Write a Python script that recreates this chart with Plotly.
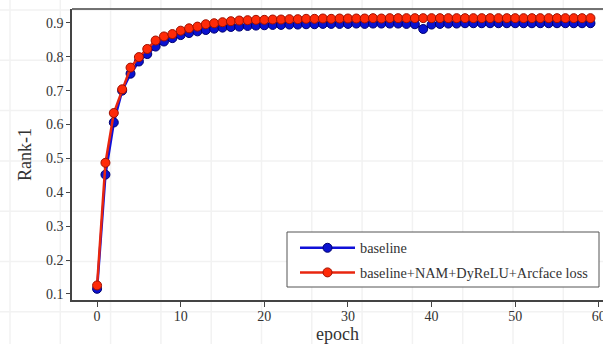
import plotly.graph_objects as go

epochs = list(range(60))

baseline = [0.115, 0.452, 0.606, 0.700, 0.750, 0.786, 0.808, 0.830, 0.845, 0.855,
            0.864, 0.870, 0.875, 0.879, 0.883, 0.886, 0.888, 0.889, 0.891, 0.892,
            0.893, 0.894, 0.894, 0.895, 0.895, 0.896, 0.896, 0.897, 0.897, 0.897,
            0.897, 0.898, 0.897, 0.898, 0.898, 0.898, 0.898, 0.897, 0.896, 0.882,
            0.895, 0.897, 0.898, 0.898, 0.899, 0.899, 0.899, 0.899, 0.899, 0.899,
            0.899, 0.899, 0.899, 0.899, 0.899, 0.899, 0.899, 0.899, 0.899, 0.899]

improved = [0.125, 0.487, 0.634, 0.704, 0.768, 0.799, 0.823, 0.848, 0.860, 0.867,
            0.877, 0.884, 0.889, 0.896, 0.899, 0.902, 0.905, 0.907, 0.908, 0.909,
            0.909, 0.910, 0.910, 0.911, 0.911, 0.912, 0.912, 0.913, 0.912, 0.913,
            0.913, 0.913, 0.913, 0.914, 0.913, 0.914, 0.914, 0.914, 0.914, 0.914,
            0.914, 0.914, 0.914, 0.914, 0.914, 0.914, 0.914, 0.914, 0.914, 0.914,
            0.914, 0.914, 0.914, 0.914, 0.914, 0.914, 0.914, 0.914, 0.914, 0.914]

series_names = ["baseline", "baseline+NAM+DyReLU+Arcface loss"]
x_ticks = [0, 10, 20, 30, 40, 50, 60]
y_ticks = [0.1, 0.2, 0.3, 0.4, 0.5, 0.6, 0.7, 0.8, 0.9]

FONT = "Liberation Serif"

fig = go.Figure()
fig.add_trace(go.Scatter(
    x=epochs, y=baseline, name=series_names[0], mode="lines+markers", legendgroup="a",
    line=dict(color="#1010d8", width=2.5),
    marker=dict(color="#0a12d0", size=9, line=dict(color="#000070", width=1)),
))
fig.add_trace(go.Scatter(
    x=epochs, y=improved, name=series_names[1], mode="lines+markers", legendgroup="b",
    line=dict(color="#e8260f", width=2.5),
    marker=dict(color="#ff2a08", size=9, line=dict(color="#a01000", width=1)),
))

W, H = 603, 344
L, T, B, R = 72, 9, 44, 0
pw, ph = W - L - R, H - T - B


def px(xp):
    return (xp - L) / pw


def py(yp):
    return ((H - B) - yp) / ph


# faint background grid of the image (decoration)
shapes = []
gx = 10.0
while gx < W:
    shapes.append(dict(type="line", xref="paper", yref="paper",
                       x0=px(gx), x1=px(gx), y0=py(H), y1=py(0),
                       line=dict(color="#f2f2f2", width=1.5), layer="below"))
    gx += 50.3
gy = 10.0
while gy < H:
    shapes.append(dict(type="line", xref="paper", yref="paper",
                       x0=px(0), x1=1.0, y0=py(gy), y1=py(gy),
                       line=dict(color="#f2f2f2", width=1.5), layer="below"))
    gy += 50.3

# top frame line
shapes.append(dict(type="line", xref="paper", yref="paper",
                   x0=0, x1=1.02, y0=1, y1=1,
                   line=dict(color="#444444", width=1.5), layer="above"))

# legend frame
shapes.append(dict(type="rect", xref="paper", yref="paper",
                   x0=px(287), x1=px(599), y0=py(287), y1=py(232),
                   fillcolor="white", line=dict(color="#555555", width=1), layer="above"))

fig.update_layout(
    width=W, height=H,
    margin=dict(l=L, r=R, t=T, b=B, pad=0, autoexpand=False),
    paper_bgcolor="white",
    plot_bgcolor="rgba(0,0,0,0)",
    font=dict(family=FONT, size=14, color="#333333"),
    shapes=shapes,
    xaxis=dict(
        range=[-3, 60.5], tickmode="array", tickvals=x_ticks,
        showgrid=False, zeroline=False, automargin=False,
        showline=True, linecolor="#444444", linewidth=1.5, mirror=False,
        ticks="outside", ticklen=5, tickcolor="#444444",
        ticklabelstandoff=-3, ticklabeloverflow="allow",
        tickfont=dict(family=FONT, size=14, color="#333333"),
        title=dict(text="epoch", font=dict(family=FONT, size=18, color="#333333"), standoff=4),
    ),
    yaxis=dict(
        range=[0.082, 0.941], tickmode="array", tickvals=y_ticks,
        ticktext=[f"{v:.1f}" for v in y_ticks],
        showgrid=False, zeroline=False, automargin=False,
        showline=True, linecolor="#444444", linewidth=1.5, mirror=False,
        ticks="outside", ticklen=4, tickcolor="#444444",
        tickfont=dict(family=FONT, size=14, color="#333333"),
        title=dict(text="Rank-1", font=dict(family=FONT, size=18, color="#333333"), standoff=10),
    ),
    legend=dict(
        x=px(295), y=py(232), xanchor="left", yanchor="top",
        bgcolor="rgba(0,0,0,0)", borderwidth=0,
        font=dict(family=FONT, size=14.3, color="#333333"),
        itemwidth=55, tracegroupgap=3,
    ),
)

fig.write_html("out.html", config={"displayModeBar": False},
               post_script="document.body.style.margin='0';document.body.style.overflow='hidden';")
